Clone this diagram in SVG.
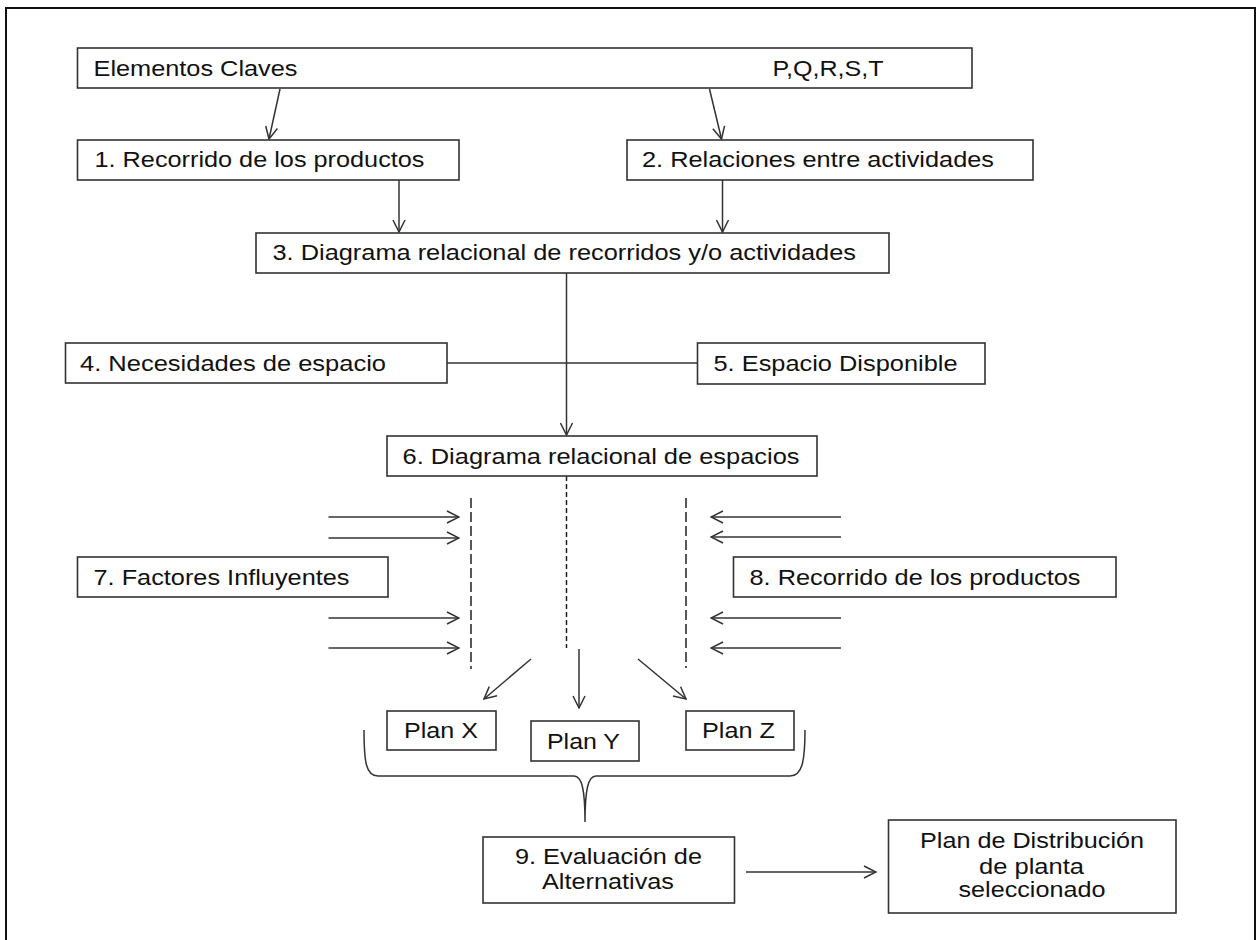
<svg xmlns="http://www.w3.org/2000/svg" width="1260" height="940" viewBox="0 0 1260 940">
<defs>
<style>
.box{fill:#fff;stroke:#333;stroke-width:1.6}
.t{font-family:"Liberation Sans",Arial,sans-serif;font-size:21.5px;fill:#111}
.c{text-anchor:middle}
.ln{fill:none;stroke:#333;stroke-width:1.5}
.arr{marker-end:url(#ah)}
.dl{fill:none;stroke:#222;stroke-width:1.5;stroke-dasharray:10 4}
.ds{fill:none;stroke:#222;stroke-width:1.5;stroke-dasharray:5 3}
</style>
<marker id="ah" markerUnits="userSpaceOnUse" markerWidth="14" markerHeight="14" viewBox="0 0 14 14" refX="13" refY="7" orient="auto">
<path d="M1,1 L13,7 L1,13" fill="none" stroke="#333" stroke-width="1.5"/>
</marker>
</defs>
<rect width="1260" height="940" fill="#fff"/>
<path d="M6,945 V8 H1255 V945" fill="none" stroke="#111" stroke-width="2"/>

<g id="connectors">
<line class="ln arr" x1="280" y1="89" x2="269" y2="139"/>
<line class="ln arr" x1="709.5" y1="89" x2="721.5" y2="139"/>
<line class="ln arr" x1="399" y1="180" x2="399" y2="232"/>
<line class="ln arr" x1="722.5" y1="180" x2="722.5" y2="232"/>
<line class="ln arr" x1="566.5" y1="273" x2="566.5" y2="435"/>
<line class="ln" x1="447" y1="363" x2="697.5" y2="363"/>
<line class="dl" x1="471" y1="498" x2="471" y2="669"/>
<line class="ds" x1="566.5" y1="476" x2="566.5" y2="648"/>
<line class="dl" x1="686" y1="498" x2="686" y2="668"/>
<line class="ln arr" x1="328.5" y1="517" x2="459" y2="517"/>
<line class="ln arr" x1="328.5" y1="538" x2="459" y2="538"/>
<line class="ln arr" x1="328.5" y1="618" x2="459" y2="618"/>
<line class="ln arr" x1="328.5" y1="648" x2="459" y2="648"/>
<line class="ln arr" x1="841" y1="517" x2="711" y2="517"/>
<line class="ln arr" x1="841" y1="537" x2="711" y2="537"/>
<line class="ln arr" x1="841" y1="618" x2="711" y2="618"/>
<line class="ln arr" x1="841" y1="648" x2="711" y2="648"/>
<line class="ln arr" x1="531" y1="659" x2="484" y2="699"/>
<line class="ln arr" x1="579" y1="649" x2="579" y2="708"/>
<line class="ln arr" x1="638" y1="659" x2="686" y2="699"/>
<path class="ln" d="M364,730 C364,762 366,776 378,776 L574,776 C582,776 585,790 585,822 C585,790 588,776 596,776 L790,776 C802,776 805,762 805,730"/>
<line class="ln arr" x1="746" y1="872" x2="876" y2="872"/>
</g>

<g id="n0">
<rect class="box" x="77.5" y="48" width="894.5" height="40"/>
<text class="t" x="93.5" y="76" textLength="204" lengthAdjust="spacingAndGlyphs">Elementos Claves</text>
<text class="t" x="772.5" y="76" textLength="111" lengthAdjust="spacingAndGlyphs">P,Q,R,S,T</text>
</g>
<g id="n1">
<rect class="box" x="77.5" y="140" width="381.5" height="40"/>
<text class="t" x="94.5" y="167" textLength="330" lengthAdjust="spacingAndGlyphs">1. Recorrido de los productos</text>
</g>
<g id="n2">
<rect class="box" x="627" y="140" width="406" height="40"/>
<text class="t" x="642" y="167" textLength="352" lengthAdjust="spacingAndGlyphs">2. Relaciones entre actividades</text>
</g>
<g id="n3">
<rect class="box" x="256" y="233" width="633" height="40"/>
<text class="t" x="272.5" y="260" textLength="583.5" lengthAdjust="spacingAndGlyphs">3. Diagrama relacional de recorridos y/o actividades</text>
</g>
<g id="n4">
<rect class="box" x="65.5" y="343" width="381.5" height="40"/>
<text class="t" x="80" y="370.5" textLength="306" lengthAdjust="spacingAndGlyphs">4. Necesidades de espacio</text>
</g>
<g id="n5">
<rect class="box" x="697.5" y="343" width="287.5" height="41"/>
<text class="t" x="713.5" y="370.5" textLength="244" lengthAdjust="spacingAndGlyphs">5. Espacio Disponible</text>
</g>
<g id="n6">
<rect class="box" x="387" y="436" width="430" height="40"/>
<text class="t" x="402.5" y="463.5" textLength="397" lengthAdjust="spacingAndGlyphs">6. Diagrama relacional de espacios</text>
</g>
<g id="n7">
<rect class="box" x="77.5" y="557" width="310.5" height="40"/>
<text class="t" x="93.5" y="584.5" textLength="256" lengthAdjust="spacingAndGlyphs">7. Factores Influyentes</text>
</g>
<g id="n8">
<rect class="box" x="733.5" y="557" width="382.5" height="40"/>
<text class="t" x="749.5" y="584.5" textLength="331" lengthAdjust="spacingAndGlyphs">8. Recorrido de los productos</text>
</g>
<g id="planX">
<rect class="box" x="387" y="711" width="109" height="39"/>
<text class="t c" x="441" y="738" textLength="74" lengthAdjust="spacingAndGlyphs">Plan X</text>
</g>
<g id="planY">
<rect class="box" x="531" y="721" width="108" height="40"/>
<text class="t c" x="583.5" y="748.5" textLength="73" lengthAdjust="spacingAndGlyphs">Plan Y</text>
</g>
<g id="planZ">
<rect class="box" x="686" y="711" width="108" height="39"/>
<text class="t c" x="738.5" y="738" textLength="73" lengthAdjust="spacingAndGlyphs">Plan Z</text>
</g>
<g id="n9">
<rect class="box" x="483" y="837" width="251.5" height="66"/>
<text class="t c" x="608.5" y="863.5" textLength="187" lengthAdjust="spacingAndGlyphs">9. Evaluación de</text>
<text class="t c" x="608" y="888.5" textLength="132" lengthAdjust="spacingAndGlyphs">Alternativas</text>
</g>
<g id="final">
<rect class="box" x="888.5" y="820" width="287.5" height="93"/>
<text class="t c" x="1032" y="848" textLength="224" lengthAdjust="spacingAndGlyphs">Plan de Distribución</text>
<text class="t c" x="1031.5" y="873.5" textLength="105" lengthAdjust="spacingAndGlyphs">de planta</text>
<text class="t c" x="1032" y="897" textLength="147" lengthAdjust="spacingAndGlyphs">seleccionado</text>
</g>
</svg>
